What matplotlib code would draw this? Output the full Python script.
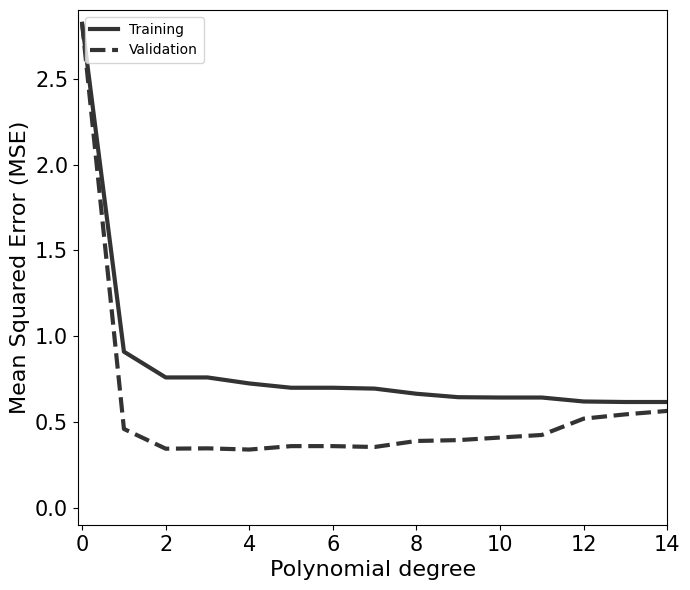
import matplotlib
matplotlib.use('Agg')
import matplotlib.pyplot as plt

degrees = list(range(15))
train_mse = [2.82, 0.91, 0.76, 0.76, 0.725, 0.70, 0.70, 0.695, 0.665, 0.645,
             0.643, 0.643, 0.62, 0.617, 0.617]
val_mse = [2.82, 0.46, 0.345, 0.347, 0.34, 0.36, 0.36, 0.355, 0.39, 0.395,
           0.41, 0.425, 0.52, 0.545, 0.565]

fig = plt.figure(figsize=(6.9, 5.9), dpi=100)
ax = fig.add_subplot(111)
fig.subplots_adjust(left=0.113, right=0.967, top=0.983, bottom=0.110)

ax.plot(degrees, train_mse, color='#333333', lw=3, label='Training')
ax.plot(degrees, val_mse, color='#333333', lw=3, ls='--', label='Validation')

ax.set_xlim(-0.1, 14)
ax.set_ylim(-0.1, 2.9)
ax.set_xlabel('Polynomial degree', fontsize=16)
ax.set_ylabel('Mean Squared Error (MSE)', fontsize=16)
ax.tick_params(labelsize=15)
ax.legend(loc='upper left', fontsize=10)

plt.savefig('out.png')
